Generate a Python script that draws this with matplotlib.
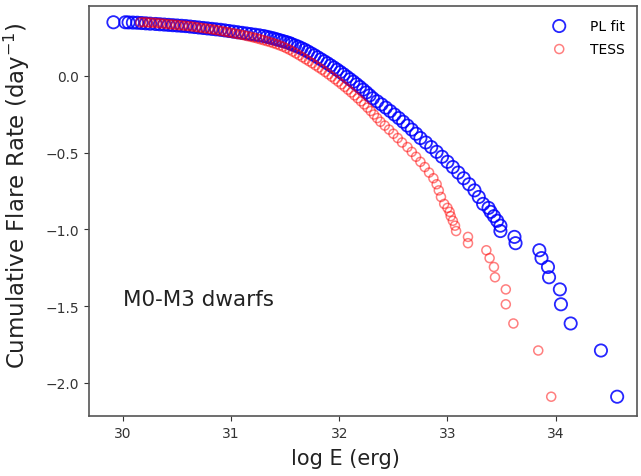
import matplotlib
matplotlib.use("Agg")
import matplotlib.pyplot as plt

# cumulative flare rate (log, day^-1), shared by both energy lists
flare_rate = [
    0.349, 0.349, 0.348, 0.347, 0.346, 0.344, 0.342, 0.340, 0.338, 0.336,
    0.334, 0.332, 0.330, 0.328, 0.326, 0.324, 0.321, 0.318, 0.315, 0.312,
    0.309, 0.306, 0.303, 0.300, 0.296, 0.292, 0.288, 0.284, 0.280, 0.276,
    0.272, 0.268, 0.264, 0.259, 0.254, 0.249, 0.244, 0.238, 0.232, 0.226,
    0.220, 0.213, 0.206, 0.198, 0.190, 0.180,
    0.170, 0.158, 0.146, 0.134, 0.121, 0.108, 0.095, 0.082, 0.068,
    0.054, 0.040, 0.025, 0.010, -0.006, -0.022, -0.038, -0.055, -0.072, -0.090,
    -0.108, -0.127, -0.146, -0.166, -0.186, -0.207, -0.229, -0.252, -0.275, -0.299,
    -0.324, -0.350, -0.377, -0.405, -0.434, -0.464, -0.495, -0.527, -0.560, -0.594,
    -0.630, -0.667, -0.706, -0.746, -0.789, -0.834, -0.860, -0.886, -0.914, -0.944,
    -0.976, -1.011, -1.049, -1.090, -1.136, -1.187, -1.245, -1.312, -1.391, -1.488,
    -1.613, -1.789, -2.090,
]

# log E (erg) of TESS flares
log_e_tess = [
    30.16, 30.19, 30.22, 30.25, 30.28, 30.31, 30.34, 30.37, 30.40, 30.43,
    30.46, 30.49, 30.52, 30.55, 30.58, 30.61, 30.64, 30.67, 30.70, 30.73,
    30.76, 30.79, 30.82, 30.85, 30.88, 30.91, 30.94, 30.97, 31.00, 31.03,
    31.06, 31.09, 31.12, 31.15, 31.18, 31.21, 31.24, 31.27, 31.30, 31.33,
    31.36, 31.39, 31.42, 31.45, 31.48, 31.51,
    31.54, 31.57, 31.60, 31.63, 31.66, 31.69, 31.72, 31.75, 31.78,
    31.81, 31.84, 31.87, 31.90, 31.93, 31.96, 31.99, 32.02, 32.05, 32.08,
    32.11, 32.14, 32.17, 32.20, 32.23, 32.26, 32.29, 32.32, 32.35, 32.38,
    32.42, 32.46, 32.50, 32.54, 32.58, 32.63, 32.67, 32.71, 32.75, 32.79,
    32.83, 32.87, 32.90, 32.92, 32.94, 32.97, 33.00, 33.02, 33.03, 33.05,
    33.07, 33.08, 33.19, 33.19, 33.36, 33.39, 33.43, 33.44, 33.54, 33.54,
    33.61, 33.84, 33.96,
]

# log E (erg) from the power-law fit
log_e_pl = [
    29.91, 30.02, 30.05, 30.09, 30.13, 30.17, 30.21, 30.25, 30.30, 30.34,
    30.38, 30.42, 30.46, 30.50, 30.54, 30.58, 30.62, 30.66, 30.70, 30.74,
    30.78, 30.82, 30.86, 30.90, 30.94, 30.98, 31.02, 31.06, 31.10, 31.14,
    31.18, 31.22, 31.26, 31.30, 31.33, 31.36, 31.39, 31.42, 31.45, 31.48,
    31.51, 31.54, 31.56, 31.59, 31.62, 31.65,
    31.68, 31.71, 31.74, 31.77, 31.80, 31.83, 31.86, 31.89, 31.92,
    31.95, 31.98, 32.01, 32.04, 32.07, 32.10, 32.13, 32.16, 32.19, 32.22,
    32.25, 32.28, 32.31, 32.35, 32.39, 32.43, 32.47, 32.51, 32.55, 32.59,
    32.63, 32.67, 32.71, 32.75, 32.80, 32.85, 32.90, 32.95, 33.00, 33.05,
    33.10, 33.15, 33.20, 33.25, 33.29, 33.33, 33.38, 33.40, 33.43, 33.46,
    33.49, 33.49, 33.62, 33.63, 33.85, 33.87, 33.93, 33.94, 34.04, 34.05,
    34.14, 34.42, 34.57,
]

fig = plt.figure(figsize=(6.41, 4.77), dpi=100)
ax = fig.add_axes([0.139, 0.126, 0.855, 0.859])

ax.scatter(log_e_pl, flare_rate, s=78, facecolors="none", edgecolors="blue",
           linewidths=1.3, alpha=0.85, label="PL fit")
ax.scatter(log_e_tess, flare_rate, s=42, facecolors="none", edgecolors="red",
           linewidths=1.1, alpha=0.5, label="TESS")

ax.set_xlim(29.685, 34.755)
ax.set_ylim(-2.215, 0.454)
ax.set_xticks([30, 31, 32, 33, 34])
ax.set_yticks([0.0, -0.5, -1.0, -1.5, -2.0])
ax.tick_params(labelsize=10, colors="#333333")
for spine in ax.spines.values():
    spine.set_edgecolor("#555555")
    spine.set_linewidth(1.2)

ax.set_xlabel("log E (erg)", fontsize=15, color="#222222")
ax.set_ylabel("Cumulative Flare Rate (day$^{-1}$)", fontsize=16.5, color="#222222")
ax.xaxis.set_label_coords(0.468, -0.078)
ax.yaxis.set_label_coords(-0.104, 0.541)
ax.text(30.0, -1.455, "M0-M3 dwarfs", fontsize=15.5, color="#222222",
        ha="left", va="center")

ax.legend(loc="upper right", frameon=False, fontsize=10, handletextpad=1.2,
          labelspacing=0.65, borderaxespad=0.5)

fig.savefig("out.png", dpi=100)
